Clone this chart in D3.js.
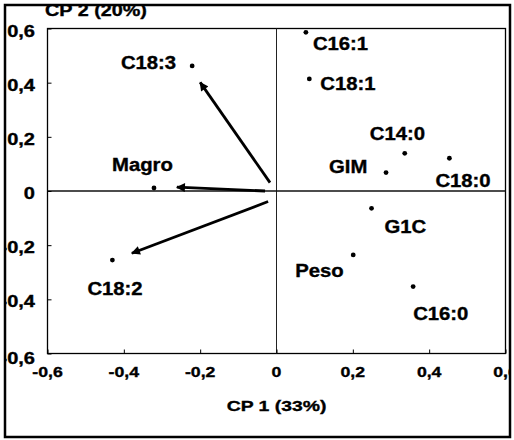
<!DOCTYPE html>
<html><head><meta charset="utf-8">
<script src="https://cdn.jsdelivr.net/npm/d3@7"></script>
<style>
html,body{margin:0;padding:0;background:#fff;}
svg{display:block;font-family:"Liberation Sans",Arial,sans-serif;font-weight:bold;}
svg text{stroke:#000;stroke-width:0.35px;fill:#000;}
</style></head>
<body>
<script>
// ---- data ----
const variables = ["C18:3","Magro","C18:2","C16:1","C18:1","C14:0","GIM","C18:0","G1C","Peso","C16:0"];
const cp1 = [-0.221,-0.321,-0.430,0.077,0.086,0.336,0.287,0.453,0.249,0.201,0.358];
const cp2 = [0.462,0.011,-0.255,0.586,0.414,0.139,0.068,0.121,-0.064,-0.236,-0.353];
// arrows (start and tip in CP coordinates)
const arrowNames = ["C18:3","Magro","C18:2"];
const arrowX0 = [-0.017,-0.030,-0.022];
const arrowY0 = [0.031,0.000,-0.039];
const arrowX1 = [-0.200,-0.261,-0.379];
const arrowY1 = [0.401,0.014,-0.230];
const xTicks = [-0.6,-0.4,-0.2,0,0.2,0.4,0.6];
const yTicks = [-0.6,-0.4,-0.2,0,0.2,0.4,0.6];
const xTickLabels = ["-0,6","-0,4","-0,2","0","0,2","0,4","0,6"];
const yTickLabels = ["-0,6","-0,4","-0,2","0","0,2","0,4","0,6"];
const xTitle = "CP 1 (33%)";
const yTitle = "CP 2 (20%)";

// ---- layout (label offsets in px: dx, dy, anchor) ----
const labelLayout = {
  "C18:3":[-16,3,"end"], "Magro":[-42,-17,"start"], "C18:2":[-25,35,"start"],
  "C16:1":[7,18,"start"], "C18:1":[11,11,"start"], "C14:0":[-35,-13,"start"],
  "GIM":[-57,0,"start"], "C18:0":[-14,29,"start"], "G1C":[13,25,"start"],
  "Peso":[-58,22,"start"], "C16:0":[0,33,"start"]
};

const W = 514, H = 440;
const svg = d3.select("body").append("svg").attr("width",W).attr("height",H);
const x = d3.scaleLinear().domain([-0.6,0.6]).range([47.5,505.5]);
const y = d3.scaleLinear().domain([-0.6,0.6]).range([353.5,28.5]);
const SX = 1.22;

svg.append("defs").append("clipPath").attr("id","frame")
  .append("rect").attr("x",6).attr("y",6).attr("width",504).attr("height",430);
const g = svg.append("g").attr("clip-path","url(#frame)");

// plot box
g.append("rect").attr("x",x(-0.6)).attr("y",y(0.6))
  .attr("width",x(0.6)-x(-0.6)).attr("height",y(-0.6)-y(0.6))
  .attr("fill","none").attr("stroke","#000").attr("stroke-width",1.3);

// zero lines
g.append("line").attr("x1",x(0)).attr("x2",x(0)).attr("y1",y(0.6)).attr("y2",y(-0.6))
  .attr("stroke","#222").attr("stroke-width",1);
g.append("line").attr("x1",x(-0.6)).attr("x2",x(0.6)).attr("y1",y(0)).attr("y2",y(0))
  .attr("stroke","#111").attr("stroke-width",1.3);

// axes ticks (inside)
const xa = g.append("g").attr("transform",`translate(0,${y(-0.6)})`)
  .call(d3.axisBottom(x).tickValues(xTicks).tickSizeInner(-4).tickSizeOuter(0).tickFormat(""));
const ya = g.append("g").attr("transform",`translate(${x(-0.6)},0)`)
  .call(d3.axisLeft(y).tickValues(yTicks).tickSizeInner(-4).tickSizeOuter(0).tickFormat(""));
[xa,ya].forEach(a=>{a.select(".domain").remove(); a.selectAll("line").attr("stroke","#000");});

// tick labels
g.selectAll("text.xt").data(xTicks).enter().append("text").attr("class","xt")
  .attr("transform",d=>`translate(${x(d)},377) scale(${SX},1)`)
  .attr("text-anchor","middle").attr("font-size",14.5)
  .text((d,i)=>xTickLabels[i]);
g.selectAll("text.yt").data(yTicks).enter().append("text").attr("class","yt")
  .attr("transform",d=>`translate(35,${y(d)+ (d===-0.6?10:8)}) scale(1.25,1)`)
  .attr("text-anchor","end").attr("font-size",16)
  .text((d,i)=>yTickLabels[i]);

// titles
g.append("text").attr("transform",`translate(${x(0)},411) scale(1.25,1)`)
  .attr("text-anchor","middle").attr("font-size",15.5).text(xTitle);
g.append("text").attr("transform",`translate(45,16) scale(1.2,1)`)
  .attr("text-anchor","start").attr("font-size",16.5).text(yTitle);

// arrows
const ah = svg.select("defs").append("marker").attr("id","ah")
  .attr("viewBox","0 0 10 10").attr("refX",9).attr("refY",5)
  .attr("markerWidth",3.6).attr("markerHeight",3.2).attr("orient","auto")
  .attr("markerUnits","strokeWidth");
ah.append("path").attr("d","M0,0 L10,5 L0,10 Z").attr("fill","#000");
g.selectAll("line.arr").data(arrowNames).enter().append("line").attr("class","arr")
  .attr("x1",(d,i)=>x(arrowX0[i])).attr("y1",(d,i)=>y(arrowY0[i]))
  .attr("x2",(d,i)=>x(arrowX1[i])).attr("y2",(d,i)=>y(arrowY1[i]))
  .attr("stroke","#000").attr("stroke-width",2.8).attr("marker-end","url(#ah)");

// points
g.selectAll("circle.pt").data(variables).enter().append("circle").attr("class","pt")
  .attr("cx",(d,i)=>x(cp1[i])).attr("cy",(d,i)=>y(cp2[i])).attr("r",2.4).attr("fill","#000");

// labels
g.selectAll("text.lb").data(variables).enter().append("text").attr("class","lb")
  .attr("transform",(d,i)=>`translate(${x(cp1[i])+labelLayout[d][0]},${y(cp2[i])+labelLayout[d][1]}) scale(1.16,1)`)
  .attr("text-anchor",d=>labelLayout[d][2]).attr("font-size",17.5).text(d=>d);

// outer frame
svg.append("rect").attr("x",5).attr("y",5).attr("width",505).attr("height",432)
  .attr("fill","none").attr("stroke","#000").attr("stroke-width",2.5);
</script>
</body></html>
